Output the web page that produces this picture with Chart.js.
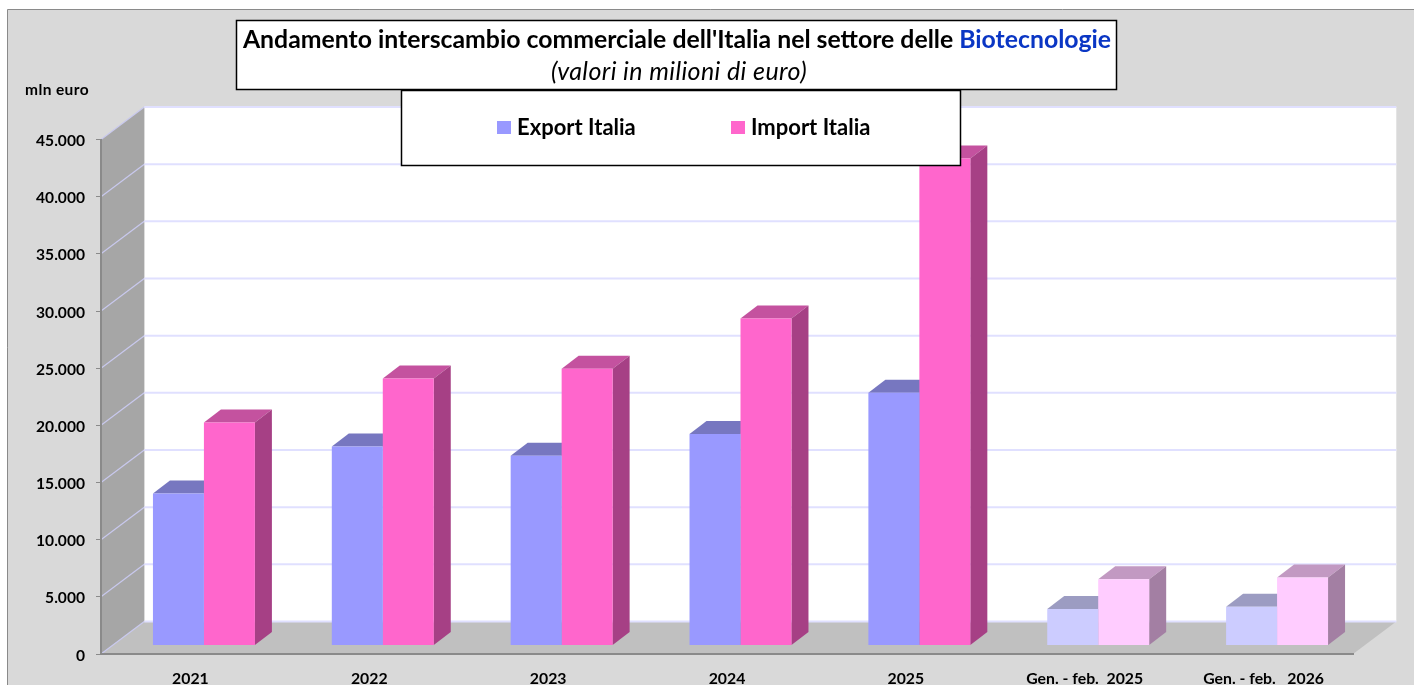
<!DOCTYPE html>
<html>
<head>
<meta charset="utf-8">
<title>Interscambio Biotecnologie</title>
<script src="https://cdn.jsdelivr.net/npm/chart.js@4/dist/chart.umd.min.js"></script>
<style>
  html, body { margin: 0; padding: 0; background: #fff; overflow: hidden; }
  canvas { display: block; }
</style>
</head>
<body>
<canvas id="tradeChart" width="1414" height="685"></canvas>
<script>
const categories = ['2021', '2022', '2023', '2024', '2025', 'Gen. - feb.  2025', 'Gen. - feb.   2026'];
const exportItalia = [13300, 17400, 16600, 18500, 22100, 3200, 3400];
const importItalia = [19500, 23350, 24200, 28600, 42600, 5800, 5950];
const yTickLabels = ['0', '5.000', '10.000', '15.000', '20.000', '25.000', '30.000', '35.000', '40.000', '45.000'];

// face / top / side colours, the last two are the paler partial periods
const exportFront = ['#9999ff', '#9999ff', '#9999ff', '#9999ff', '#9999ff', '#ccccff', '#ccccff'];
const exportTop = ['#7777c0', '#7777c0', '#7777c0', '#7777c0', '#7777c0', '#9c9cc2', '#9c9cc2'];
const exportSide = ['#6666aa', '#6666aa', '#6666aa', '#6666aa', '#6666aa', '#8f8fb0', '#8f8fb0'];
const importFront = ['#ff66cc', '#ff66cc', '#ff66cc', '#ff66cc', '#ff66cc', '#ffccff', '#ffccff'];
const importTop = ['#c4529f', '#c4529f', '#c4529f', '#c4529f', '#c4529f', '#c299c2', '#c299c2'];
const importSide = ['#a64085', '#a64085', '#a64085', '#a64085', '#a64085', '#a37fa3', '#a37fa3'];

const FONT = 'Lato, Carlito, sans-serif';
const wallDepth = { x: 43.3, y: -32.5 }; // front plane -> back wall
const barShift = { x: 13.5, y: -8.5 };   // front plane -> front of the bars
const barDepth = { x: 17, y: -13 };

Chart.defaults.font.family = FONT;

function poly(ctx, pts, fill) {
    ctx.beginPath();
    ctx.moveTo(pts[0][0], pts[0][1]);
    for (let i = 1; i < pts.length; i++) ctx.lineTo(pts[i][0], pts[i][1]);
    ctx.closePath();
    ctx.fillStyle = fill;
    ctx.fill();
}

function line(ctx, pts, color, width) {
    ctx.beginPath();
    ctx.moveTo(pts[0][0], pts[0][1]);
    for (let i = 1; i < pts.length; i++) ctx.lineTo(pts[i][0], pts[i][1]);
    ctx.strokeStyle = color;
    ctx.lineWidth = width;
    ctx.stroke();
}

// grey background, side wall, back wall and floor of the fake 3D box
const roomPlugin = {
    id: 'room',
    beforeDraw(chart) {
        const ctx = chart.ctx;
        const { left, right, top, bottom } = chart.chartArea;
        const dx = wallDepth.x, dy = wallDepth.y;
        const yScale = chart.scales.y;

        ctx.save();
        ctx.fillStyle = '#ffffff';
        ctx.fillRect(0, 0, chart.width, chart.height);
        ctx.fillStyle = '#d9d9d9';
        ctx.fillRect(7.5, 9.5, chart.width, chart.height);
        line(ctx, [[7.5, chart.height], [7.5, 9.5], [chart.width, 9.5]], '#8a8a8a', 1);

        ctx.fillStyle = '#ffffff';
        ctx.fillRect(left + dx, top + dy, right - left, bottom - top);
        poly(ctx, [[left, top], [left + dx, top + dy], [left + dx, bottom + dy], [left, bottom]], '#a6a6a6');
        poly(ctx, [[left, bottom], [left + dx, bottom + dy], [right + dx, bottom + dy], [right, bottom]], '#c0c0c0');

        yScale.ticks.forEach((t) => {
            const y = yScale.getPixelForValue(t.value);
            line(ctx, [[left, y], [left + dx, y + dy]], '#c9c9ee', 1.2);
            line(ctx, [[left + dx, y + dy], [right + dx, y + dy]], '#e0e0ff', 2);
        });
        ctx.restore();
    }
};

// the bars are native, the plugin only shifts them and adds their top and side
const barsPlugin = {
    id: 'bars3d',
    beforeDatasetsDraw(chart) {
        const ctx = chart.ctx;
        ctx.save();
        ctx.translate(barShift.x, barShift.y);
        chart.data.datasets.forEach((ds, d) => {
            chart.getDatasetMeta(d).data.forEach((bar, i) => {
                const l = bar.x - bar.width / 2, r = bar.x + bar.width / 2;
                const dx = barDepth.x, dy = barDepth.y;
                poly(ctx, [[l, bar.y], [l + dx, bar.y + dy], [r + dx, bar.y + dy], [r, bar.y]], ds.topColors[i]);
                poly(ctx, [[r, bar.y], [r + dx, bar.y + dy], [r + dx, bar.base + dy], [r, bar.base]], ds.sideColors[i]);
            });
        });
    },
    afterDatasetsDraw(chart) {
        chart.ctx.restore();
    }
};

// title and legend boxes sit on top of the bars, so they go in last
const boxesPlugin = {
    id: 'boxes',
    afterDraw(chart) {
        const ctx = chart.ctx;
        ctx.save();
        ctx.textBaseline = 'middle';

        ctx.fillStyle = '#000000';
        ctx.textAlign = 'left';
        ctx.font = `bold 15.5px ${FONT}`;
        ctx.letterSpacing = '0.4px';
        ctx.fillText('mln euro', 25, 90);
        ctx.letterSpacing = '0px';

        // title box
        ctx.fillStyle = '#ffffff';
        ctx.fillRect(236, 20, 881, 70);
        ctx.strokeStyle = '#000000';
        ctx.lineWidth = 1.5;
        ctx.strokeRect(236.5, 20.5, 880, 69);

        const t1 = "Andamento interscambio commerciale dell'Italia nel settore delle ";
        const t2 = 'Biotecnologie';
        ctx.font = `bold 24.8px ${FONT}`;
        const w1 = ctx.measureText(t1).width;
        const w2 = ctx.measureText(t2).width;
        const tx = 677 - (w1 + w2) / 2;
        ctx.fillStyle = '#000000';
        ctx.fillText(t1, tx, 40);
        ctx.fillStyle = '#0a36c4';
        ctx.fillText(t2, tx + w1, 40);

        ctx.fillStyle = '#000000';
        ctx.textAlign = 'center';
        ctx.font = `italic 25px ${FONT}`;
        ctx.letterSpacing = '0.4px';
        ctx.fillText('(valori in milioni di euro)', 679, 72);
        ctx.letterSpacing = '0px';

        // legend box
        ctx.fillStyle = '#ffffff';
        ctx.fillRect(401, 90, 560, 76);
        ctx.strokeStyle = '#000000';
        ctx.strokeRect(401.5, 90.5, 559, 75);

        ctx.textAlign = 'left';
        ctx.font = `bold 22px ${FONT}`;
        const legendX = [497, 731];
        chart.data.datasets.forEach((ds, d) => {
            ctx.fillStyle = ds.backgroundColor[0];
            ctx.fillRect(legendX[d], 121, 14, 13);
            ctx.fillStyle = '#000000';
            ctx.fillText(ds.label, legendX[d] + 20, 128);
        });
        ctx.restore();
    }
};

new Chart(document.getElementById('tradeChart'), {
    type: 'bar',
    data: {
        labels: categories,
        datasets: [
            { label: 'Export Italia', data: exportItalia, backgroundColor: exportFront, topColors: exportTop, sideColors: exportSide, clip: false },
            { label: 'Import Italia', data: importItalia, backgroundColor: importFront, topColors: importTop, sideColors: importSide, clip: false }
        ]
    },
    plugins: [roomPlugin, barsPlugin, boxesPlugin],
    options: {
        responsive: false,
        animation: false,
        layout: { padding: { top: 139.5, right: 61, left: 0, bottom: 0 } },
        categoryPercentage: 0.57,
        barPercentage: 1,
        plugins: { legend: { display: false }, title: { display: false }, tooltip: { enabled: false } },
        scales: {
            x: {
                afterFit(scale) { scale.height = 31; },
                grid: { display: false },
                border: { display: true, color: '#8a8a8a', width: 2 },
                ticks: { color: '#000000', font: { size: 15.8, weight: 'bold' }, padding: 7, maxRotation: 0, autoSkip: false }
            },
            y: {
                min: 0,
                max: 45000,
                afterFit(scale) { scale.width = 101; },
                grid: { drawOnChartArea: false, drawTicks: true, tickLength: 5, color: '#8a8a8a' },
                border: { display: true, color: '#8a8a8a', width: 2 },
                ticks: {
                    stepSize: 5000,
                    color: '#000000',
                    font: { size: 15.6, weight: 'bold' },
                    padding: 11,
                    labelOffset: 1.5,
                    callback: (value, index) => yTickLabels[index]
                }
            }
        }
    }
});
</script>
</body>
</html>
